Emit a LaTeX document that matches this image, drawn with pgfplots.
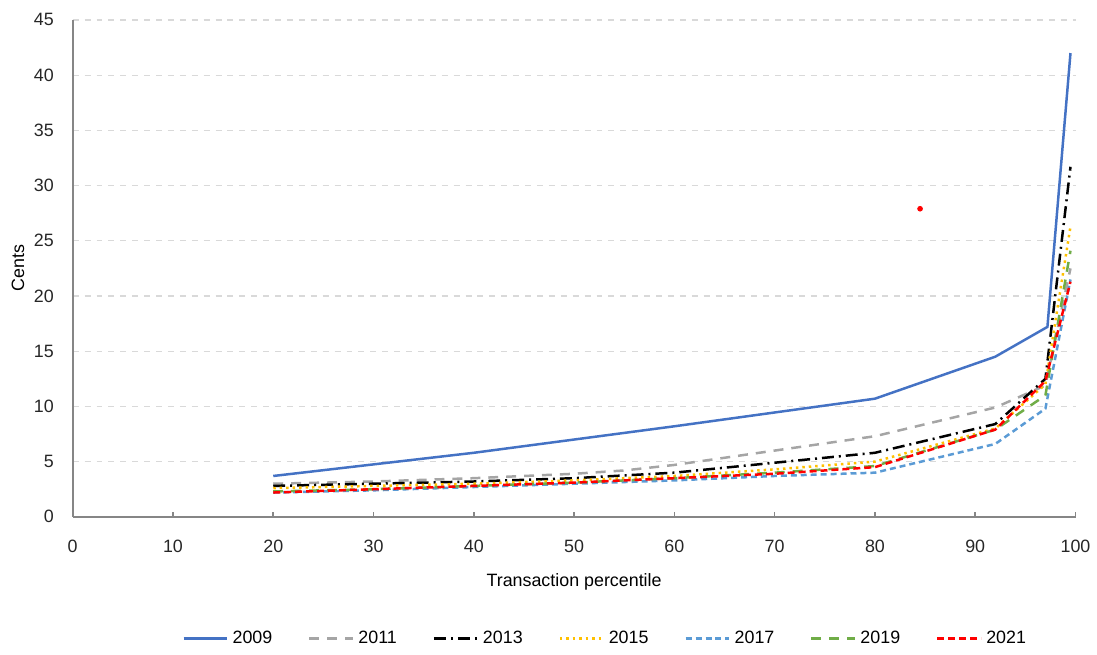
\documentclass[border=0pt]{standalone}
\usepackage{pgfplots}
\pgfplotsset{compat=1.18}
\usepackage{fontspec}
\setmainfont{Liberation Sans}
\definecolor{c09}{RGB}{68,114,196}
\definecolor{c11}{RGB}{165,165,165}
\definecolor{c13}{RGB}{0,0,0}
\definecolor{c15}{RGB}{255,192,0}
\definecolor{c17}{RGB}{91,155,213}
\definecolor{c19}{RGB}{112,173,71}
\definecolor{c21}{RGB}{255,0,0}
\definecolor{axln}{RGB}{134,134,134}
\definecolor{grd}{RGB}{217,217,217}
\begin{document}
\begin{tikzpicture}
\begin{axis}[
  scale only axis, width=503.5bp, height=249.5bp,
  xmin=0, xmax=100, ymin=0, ymax=45,
  xtick={0,10,...,100}, ytick={0,5,...,45},
  axis x line*=bottom, axis y line*=left,
  axis line style={axln, line width=0.9bp, -},
  x tick style={axln, line width=0.8bp}, major tick length=2.5bp,
  tick align=inside, y tick style={draw=none},
  ymajorgrids, major grid style={grd, dashed, line width=0.6bp},
  font=\fontsize{9}{11}\selectfont,
  /pgf/number format/assume math mode=true,
  tick label style={color=black!85},
  xticklabel style={yshift=-8bp}, yticklabel style={xshift=-6bp},
  xlabel={Transaction percentile}, ylabel={Cents},
  xlabel style={yshift=-4bp}, ylabel style={yshift=-2bp},
  clip=false,
  legend columns=7,
  legend style={at={(rel axis cs:0.532,-0.245)}, anchor=center, draw=none,
    font=\fontsize{9}{11}\selectfont, /tikz/every even column/.append style={column sep=16bp}},
  legend image code/.code={\draw[#1] (0bp,0bp) -- (22bp,0bp);},
]
\addplot[c09, line width=1.25bp] coordinates {
 (20,3.7) (40,5.8) (60,8.2) (80,10.7) (92,14.5) (97.2,17.2) (99.5,42)};
\addplot[c11, line width=1.25bp, dash pattern=on 5bp off 4bp] coordinates {
 (20,3.0) (30,3.2) (40,3.5) (50,3.9) (55,4.2) (60,4.7) (70,6.0) (80,7.3) (92,9.9) (97,11.9) (99.5,22.5)};
\addplot[c13, line width=1.25bp, dash pattern=on 6bp off 2.5bp on 1bp off 2.5bp] coordinates {
 (20,2.8) (30,3.0) (40,3.2) (50,3.5) (60,4.0) (70,4.9) (80,5.8) (92,8.4) (97,12.5) (99.5,31.7)};
\addplot[c15, line width=1.25bp, dotted] coordinates {
 (20,2.6) (30,2.8) (40,3.0) (50,3.3) (60,3.7) (70,4.3) (80,5.0) (92,8.0) (97,12.0) (99.5,26.3)};
\addplot[c17, line width=1.25bp, dash pattern=on 3bp off 2bp] coordinates {
 (20,2.2) (30,2.4) (40,2.7) (50,3.0) (60,3.3) (70,3.7) (80,4.0) (92,6.6) (97,9.8) (99.5,21.5)};
\addplot[c19, line width=1.25bp, dash pattern=on 5bp off 4bp] coordinates {
 (20,2.3) (30,2.5) (40,2.8) (50,3.1) (60,3.5) (70,4.0) (80,4.6) (92,7.9) (97,11.0) (99.5,24.1)};
\addplot[c21, line width=1.25bp, dash pattern=on 3.5bp off 2bp] coordinates {
 (20,2.2) (30,2.5) (40,2.8) (50,3.1) (60,3.5) (70,3.9) (80,4.5) (92,7.9) (97,12.3) (99.5,21.3)};
\addplot[only marks, mark=*, mark size=1.2bp, color=c21, forget plot] coordinates {(84.5,27.9)};
\legend{2009,2011,2013,2015,2017,2019,2021}
\path (rel axis cs:-0.0725,-0.2625) rectangle (rel axis cs:1.0169,1.0401);
\end{axis}
\end{tikzpicture}
\end{document}
